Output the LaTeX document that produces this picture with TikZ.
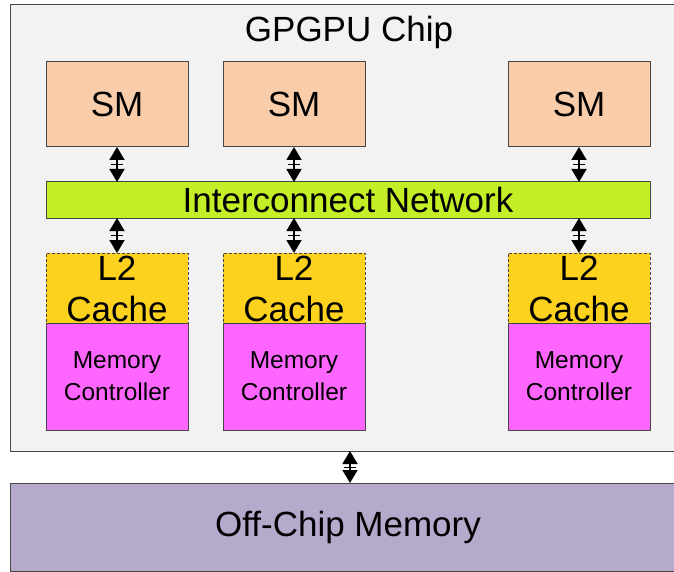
\documentclass[tikz,border=0pt]{standalone}
\usepackage{fontspec}
\setmainfont{Liberation Sans}
\usetikzlibrary{arrows.meta,decorations.markings}
\definecolor{chipbg}{RGB}{242,242,242}
\definecolor{smfill}{RGB}{250,205,170}
\definecolor{icfill}{RGB}{196,238,40}
\definecolor{l2fill}{RGB}{253,210,30}
\definecolor{mcfill}{RGB}{255,102,255}
\definecolor{memfill}{RGB}{181,169,204}
\definecolor{edge}{RGB}{70,70,70}
\tikzset{
  box/.style={draw=edge, line width=1pt, inner sep=0pt, outer sep=0pt, anchor=north west},
  bigtext/.style={font=\fontsize{35}{41}\selectfont},
  smalltext/.style={font=\fontsize{24.5}{32}\selectfont},
  smbox/.style={box, fill=smfill, minimum width=142pt, minimum height=85pt, bigtext},
  l2box/.style={box, fill=l2fill, dashed, dash pattern=on 3pt off 2pt, minimum width=142pt, minimum height=70pt},
  mcbox/.style={box, fill=mcfill, minimum width=142pt, minimum height=107pt, smalltext, align=center},
  biarrow/.style={line width=1.6pt, {Triangle[length=13pt,width=15pt]}-{Triangle[length=13pt,width=15pt]},
    postaction={decorate, decoration={markings, mark=at position 0.5 with {\draw[-, line width=0.8pt] (0,-6pt) -- (0,6pt);}}}},
}
\begin{document}
\begin{tikzpicture}[x=1pt,y=-1pt]
\useasboundingbox (0,0) rectangle (674,572);
\clip (0,0) rectangle (674,572);
% chip
\node[box, fill=chipbg, minimum width=690pt, minimum height=446pt] (chip) at (10,5) {};
\node[bigtext, inner sep=0pt] (title) at (349,32) {GPGPU Chip};
% SMs
\node[smbox] (sm1) at (46,62) {SM};
\node[smbox] (sm2) at (223,62) {SM};
\node[smbox] (sm3) at (508,62) {SM};
% interconnect
\node[box, fill=icfill, minimum width=604pt, minimum height=36pt, bigtext] (ic) at (46,182) {Interconnect Network};
% L2 caches
\node[l2box] (l21) at (46,253) {};
\node[l2box] (l22) at (223,253) {};
\node[l2box] (l23) at (508,253) {};
\node[bigtext, align=center, inner sep=0pt] (l21t) at ([yshift=-1pt]l21.center) {L2\\Cache};
\node[bigtext, align=center, inner sep=0pt] (l22t) at ([yshift=-1pt]l22.center) {L2\\Cache};
\node[bigtext, align=center, inner sep=0pt] (l23t) at ([yshift=-1pt]l23.center) {L2\\Cache};
% memory controllers
\node[mcbox] (mc1) at (46,323) {Memory\\Controller};
\node[mcbox] (mc2) at (223,323) {Memory\\Controller};
\node[mcbox] (mc3) at (508,323) {Memory\\Controller};
% off-chip memory
\node[box, fill=memfill, minimum width=690pt, minimum height=88pt] (mem) at (10,483) {};
\node[bigtext, inner sep=0pt] (memt) at (348,527) {Off-Chip Memory};
% arrows
\draw[biarrow] (sm1.south) -- (sm1.south |- ic.north);
\draw[biarrow] (sm2.south) -- (sm2.south |- ic.north);
\draw[biarrow] (sm3.south) -- (sm3.south |- ic.north);
\draw[biarrow] (l21.north |- ic.south) -- (l21.north);
\draw[biarrow] (l22.north |- ic.south) -- (l22.north);
\draw[biarrow] (l23.north |- ic.south) -- (l23.north);
\coordinate (cb) at (350,451);
\draw[biarrow] (cb) -- (cb |- mem.north);
\end{tikzpicture}
\end{document}
